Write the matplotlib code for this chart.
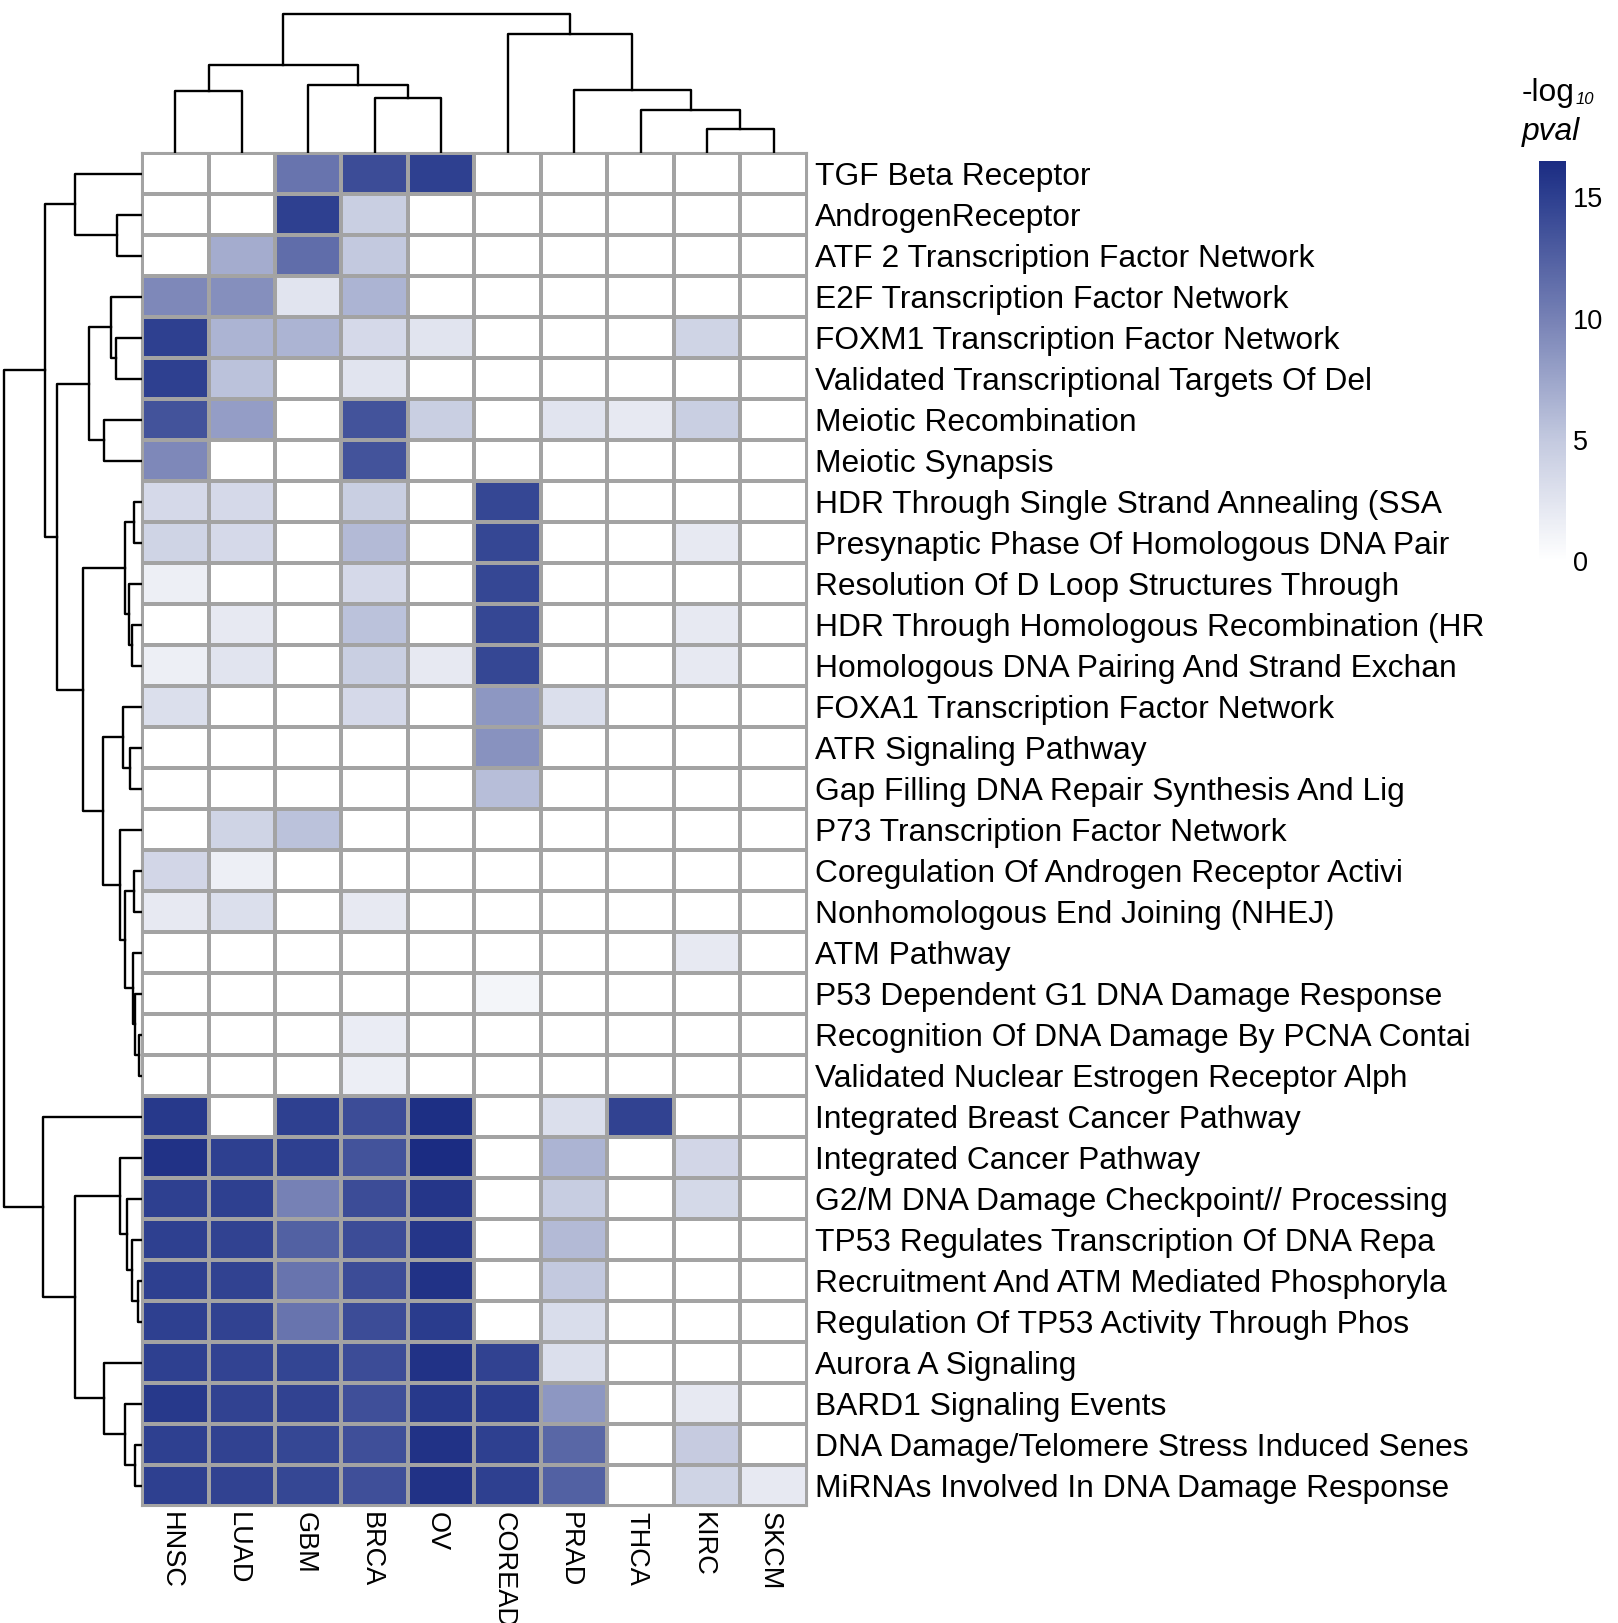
import matplotlib
matplotlib.use("Agg")
import matplotlib.pyplot as plt
import matplotlib.transforms as mtransforms
import numpy as np
from matplotlib.colors import LinearSegmentedColormap, Normalize
from matplotlib.colorbar import ColorbarBase

plt.rcParams['font.family'] = ['Liberation Sans', 'DejaVu Sans']

cancers = ['HNSC', 'LUAD', 'GBM', 'BRCA', 'OV', 'COREAD', 'PRAD', 'THCA', 'KIRC', 'SKCM']

pathways = [
    'TGF Beta Receptor',
    'AndrogenReceptor',
    'ATF 2 Transcription Factor Network',
    'E2F Transcription Factor Network',
    'FOXM1 Transcription Factor Network',
    'Validated Transcriptional Targets Of Del',
    'Meiotic Recombination',
    'Meiotic Synapsis',
    'HDR Through Single Strand Annealing (SSA',
    'Presynaptic Phase Of Homologous DNA Pair',
    'Resolution Of D Loop Structures Through',
    'HDR Through Homologous Recombination (HR',
    'Homologous DNA Pairing And Strand Exchan',
    'FOXA1 Transcription Factor Network',
    'ATR Signaling Pathway',
    'Gap Filling DNA Repair Synthesis And Lig',
    'P73 Transcription Factor Network',
    'Coregulation Of Androgen Receptor Activi',
    'Nonhomologous End Joining (NHEJ)',
    'ATM Pathway',
    'P53 Dependent G1 DNA Damage Response',
    'Recognition Of DNA Damage By PCNA Contai',
    'Validated Nuclear Estrogen Receptor Alph',
    'Integrated Breast Cancer Pathway',
    'Integrated Cancer Pathway',
    'G2/M DNA Damage Checkpoint// Processing',
    'TP53 Regulates Transcription Of DNA Repa',
    'Recruitment And ATM Mediated Phosphoryla',
    'Regulation Of TP53 Activity Through Phos',
    'Aurora A Signaling',
    'BARD1 Signaling Events',
    'DNA Damage/Telomere Stress Induced Senes',
    'MiRNAs Involved In DNA Damage Response',
]

# -log10 pval, one row per pathway, columns in the order of `cancers`
neglog_p = np.array([
    [0, 0, 11.0, 14.0, 15.0, 0, 0, 0, 0, 0],
    [0, 0, 15.0, 4.5, 0, 0, 0, 0, 0, 0],
    [0, 7.0, 11.5, 5.0, 0, 0, 0, 0, 0, 0],
    [9.5, 9.0, 2.5, 6.5, 0, 0, 0, 0, 0, 0],
    [15.0, 6.5, 6.5, 3.5, 2.5, 0, 0, 0, 4.0, 0],
    [15.0, 5.5, 0, 2.5, 0, 0, 0, 0, 0, 0],
    [13.5, 8.0, 0, 13.5, 4.5, 0, 2.5, 2.0, 4.5, 0],
    [9.5, 0, 0, 13.5, 0, 0, 0, 0, 0, 0],
    [3.5, 3.5, 0, 4.5, 0, 14.5, 0, 0, 0, 0],
    [4.0, 3.5, 0, 6.0, 0, 14.5, 0, 0, 2.0, 0],
    [1.5, 0, 0, 3.5, 0, 14.5, 0, 0, 0, 0],
    [0, 2.0, 0, 5.5, 0, 14.5, 0, 0, 2.0, 0],
    [1.5, 2.5, 0, 4.5, 2.0, 14.5, 0, 0, 2.0, 0],
    [3.0, 0, 0, 3.5, 0, 8.5, 3.0, 0, 0, 0],
    [0, 0, 0, 0, 0, 8.8, 0, 0, 0, 0],
    [0, 0, 0, 0, 0, 5.8, 0, 0, 0, 0],
    [0, 4.0, 5.5, 0, 0, 0, 0, 0, 0, 0],
    [3.8, 1.5, 0, 0, 0, 0, 0, 0, 0, 0],
    [2.0, 3.0, 0, 2.0, 0, 0, 0, 0, 0, 0],
    [0, 0, 0, 0, 0, 0, 0, 0, 2.0, 0],
    [0, 0, 0, 0, 0, 1.0, 0, 0, 0, 0],
    [0, 0, 0, 1.8, 0, 0, 0, 0, 0, 0],
    [0, 0, 0, 1.6, 0, 0, 0, 0, 0, 0],
    [15.5, 0, 15.0, 14.0, 16.3, 0, 3.0, 14.8, 0, 0],
    [16.0, 15.0, 15.0, 13.5, 16.5, 0, 6.5, 0, 3.8, 0],
    [15.0, 15.0, 10.0, 14.0, 15.7, 0, 4.7, 0, 3.6, 0],
    [15.0, 14.8, 12.5, 14.0, 15.7, 0, 6.0, 0, 0, 0],
    [15.0, 14.8, 11.0, 14.0, 16.0, 0, 5.0, 0, 0, 0],
    [15.0, 14.8, 11.0, 14.0, 15.3, 0, 3.2, 0, 0, 0],
    [15.0, 14.7, 14.6, 14.0, 16.0, 14.8, 3.0, 0, 0, 0],
    [15.5, 14.8, 14.8, 13.8, 15.5, 15.2, 8.5, 0, 2.0, 0],
    [15.0, 14.8, 14.5, 13.8, 16.0, 15.0, 12.0, 0, 4.8, 0],
    [15.0, 14.8, 14.5, 13.8, 16.0, 15.0, 12.5, 0, 4.0, 2.0],
])

# dendrogram merges (child a, child b, height); leaves are numbered in display order,
# merged clusters get the next index, scipy-linkage style
col_merges = [
    (0, 1, 187), (3, 4, 164), (2, 11, 205), (10, 12, 265),
    (8, 9, 71), (7, 14, 130), (6, 15, 190), (5, 16, 358), (13, 17, 417),
]
row_merges = [
    (1, 2, 75), (0, 33, 202), (4, 5, 78), (3, 35, 92), (6, 7, 115), (36, 37, 160),
    (8, 9, 25), (11, 12, 30), (10, 40, 40), (39, 41, 50), (14, 15, 35), (13, 43, 58),
    (17, 18, 25), (21, 22, 8), (20, 46, 22), (19, 47, 28), (45, 48, 50), (16, 49, 65),
    (44, 50, 118), (42, 51, 177), (38, 52, 255), (34, 53, 290),
    (27, 28, 13), (26, 55, 30), (25, 56, 45), (24, 57, 65),
    (31, 32, 20), (30, 59, 50), (29, 60, 115), (58, 61, 200), (23, 62, 298), (54, 63, 415),
]

cbar_ticks = [0, 5, 10, 15]
vmax = 16.5


def draw_dendrogram(ax, n_leaves, merges, orientation):
    pos = [i + 0.5 for i in range(n_leaves)]
    hgt = [0.0] * n_leaves
    for a, b, h in merges:
        xs = [pos[a], pos[a], pos[b], pos[b]]
        ys = [hgt[a], h, h, hgt[b]]
        if orientation == 'top':
            ax.plot(xs, ys, color='black', lw=1.7, solid_capstyle='projecting')
        else:
            ax.plot(ys, xs, color='black', lw=1.7, solid_capstyle='projecting')
        pos.append((pos[a] + pos[b]) / 2)
        hgt.append(h)
    ax.set_axis_off()


W, H = 1618, 1623
fig = plt.figure(figsize=(W / 100, H / 100), dpi=100)

hm_l, hm_r, hm_t, hm_b = 142, 807, 153, 1506
ax = fig.add_axes([hm_l / W, 1 - hm_b / H, (hm_r - hm_l) / W, (hm_b - hm_t) / H])

cmap = LinearSegmentedColormap.from_list(
    'pval', [(0, '#ffffff'), (5 / vmax, '#c3c9df'), (10 / vmax, '#7681b5'),
             (15 / vmax, '#2e4090'), (1.0, '#1b2c82')])
norm = Normalize(0, vmax)

ax.pcolormesh(np.arange(len(cancers) + 1), np.arange(len(pathways) + 1), neglog_p,
              cmap=cmap, norm=norm, edgecolors='#a3a3a3', linewidth=1.5)
ax.set_xlim(0, len(cancers))
ax.set_ylim(len(pathways), 0)
for s in ax.spines.values():
    s.set_color('#a3a3a3')
    s.set_linewidth(1.5)

ax.set_xticks(np.arange(len(cancers)) + 0.5)
ax.set_xticklabels(cancers, rotation=-90, fontsize=19.5, va='top', ha='center')
ax.set_yticks(np.arange(len(pathways)) + 0.5)
ax.set_yticklabels(pathways, fontsize=22.9)
ax.yaxis.tick_right()
ax.tick_params(axis='x', length=0, pad=4)
ax.tick_params(axis='y', length=0, pad=6)
# rotated labels carry their descent on one side; nudge them back onto the column centre
shift = mtransforms.ScaledTranslation(-4 / 100, 0, fig.dpi_scale_trans)
for lab in ax.get_xticklabels():
    lab.set_transform(lab.get_transform() + shift)

# column dendrogram
axc = fig.add_axes([hm_l / W, 1 - hm_t / H, (hm_r - hm_l) / W, hm_t / H])
draw_dendrogram(axc, len(cancers), col_merges, 'top')
axc.set_xlim(0, len(cancers))
axc.set_ylim(0, hm_t * 3)

# row dendrogram
axr = fig.add_axes([0, 1 - hm_b / H, hm_l / W, (hm_b - hm_t) / H])
draw_dendrogram(axr, len(pathways), row_merges, 'left')
axr.set_ylim(len(pathways), 0)
axr.set_xlim(hm_l * 3, 0)

# colour legend
cax = fig.add_axes([1539 / W, 1 - 561 / H, 27 / W, 400 / H])
cb = ColorbarBase(cax, cmap=cmap, norm=norm, ticks=cbar_ticks)
cb.outline.set_visible(False)
cax.tick_params(length=0, pad=5, labelsize=19.5)
fig.text(1522 / W, 1 - 93 / H, '-log', fontsize=22.9, va='center', ha='left')
fig.text(1576 / W, 1 - 100 / H, '10', fontsize=12, style='italic', va='center', ha='left')
fig.text(1522 / W, 1 - 132 / H, 'pval', fontsize=22.9, style='italic', va='center', ha='left')

fig.savefig('out.png', dpi=100)
